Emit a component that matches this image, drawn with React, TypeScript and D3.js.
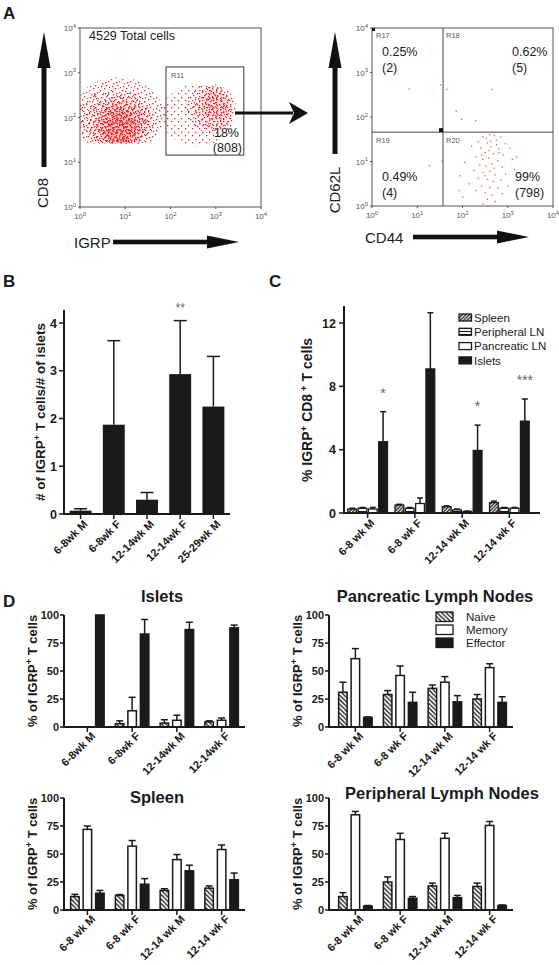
import React from "react";
import * as d3 from "d3";

const FONT = "Arial, 'Liberation Sans', Helvetica, sans-serif";

// ---------------- Panel A data ----------------
const logTicks = [0, 1, 2, 3, 4];
const totalCellsLabel = "4529 Total cells";
const gateR11 = { x0: 1.9, x1: 3.62, y0: 1.16, y1: 3.13 };
const gateR11Stats = ["18%", "(808)"];
const quadDivX = 1.57;
const quadDivY = 1.66;
const quadNames = ["R17", "R18", "R19", "R20"];
const quadPct = ["0.25%", "0.62%", "0.49%", "99%"];
const quadCounts = ["(2)", "(5)", "(4)", "(798)"];

// dot texture tiles used to render the dense cytometry clouds (irregular, different sizes)
const tiles: Record<string, { size: number; dots: number[][] }> = {
  A: { size: 7, dots: [[1, 1], [4, 5]] },
  B: { size: 9, dots: [[0, 3], [3, 7], [6, 1], [8, 5], [4, 4]] },
  C: { size: 11, dots: [[1, 2], [5, 0], [9, 4], [3, 6], [7, 8], [10, 10], [2, 9], [6, 5]] },
  D: { size: 13, dots: [[0, 0], [3, 5], [7, 2], [11, 6], [5, 9], [9, 11], [1, 12], [12, 1], [6, 6], [2, 3]] },
};

// cloud density layers in log10 units (cx, cy, rx, ry)
const mainCloud = [
  { cx: 0.85, cy: 2.05, rx: 1.0, ry: 0.85, tile: "C", sx: 0, sy: 0, base: 0 },
  { cx: 0.8, cy: 1.95, rx: 0.85, ry: 0.7, tile: "D", sx: 3, sy: 4, base: 0 },
  { cx: 0.85, cy: 1.9, rx: 0.7, ry: 0.6, tile: "B", sx: 0, sy: 0, base: 0.05 },
  { cx: 0.9, cy: 1.85, rx: 0.55, ry: 0.5, tile: "C", sx: 4, sy: 3, base: 0.06 },
  { cx: 0.88, cy: 1.8, rx: 0.42, ry: 0.42, tile: "B", sx: 5, sy: 2, base: 0.08 },
  { cx: 0.9, cy: 1.75, rx: 0.3, ry: 0.32, tile: "D", sx: 6, sy: 7, base: 0.1 },
];
const mainCloudFloor = 1.42;
const gateCloud = [
  { cx: 2.6, cy: 2.05, rx: 0.8, ry: 0.7, tile: "A", sx: 2, sy: 1, base: 0 },
  { cx: 2.9, cy: 2.2, rx: 0.55, ry: 0.55, tile: "C", sx: 5, sy: 5, base: 0 },
  { cx: 2.95, cy: 2.2, rx: 0.42, ry: 0.5, tile: "B", sx: 1, sy: 3, base: 0.05 },
  { cx: 3.0, cy: 2.25, rx: 0.28, ry: 0.32, tile: "D", sx: 2, sy: 2, base: 0.08 },
];

// CD44 / CD62L events (log10 units)
const r20Points = [
  [2.45, 1.55], [2.6, 1.6], [2.7, 1.58], [2.85, 1.55], [2.35, 1.45], [2.55, 1.42], [2.75, 1.48], [2.95, 1.4],
  [2.2, 1.35], [2.4, 1.3], [2.62, 1.33], [2.8, 1.28], [3.05, 1.3], [2.5, 1.2], [2.68, 1.18], [2.9, 1.15],
  [2.3, 1.1], [2.45, 1.05], [2.58, 1.08], [2.78, 1.02], [3.1, 1.05], [2.05, 0.98], [2.38, 0.92], [2.52, 0.9],
  [2.65, 0.95], [2.88, 0.88], [3.15, 0.82], [2.25, 0.8], [2.45, 0.75], [2.6, 0.78], [2.72, 0.7], [2.95, 0.72],
  [1.95, 0.68], [2.35, 0.62], [2.55, 0.6], [2.68, 0.55], [2.85, 0.58], [2.15, 0.5], [2.42, 0.45], [2.6, 0.42],
  [2.78, 0.4], [3.0, 0.45], [2.3, 0.35], [2.5, 0.3], [2.65, 0.25], [2.88, 0.28], [2.0, 0.2], [2.55, 0.15],
  [2.72, 0.1], [2.45, 0.05], [1.92, 0.35], [2.62, 1.45], [2.52, 1.52], [2.75, 1.38], [2.58, 1.25], [2.42, 1.15],
  [2.7, 0.85], [2.5, 0.68], [2.8, 1.2], [3.2, 1.1],
];
const otherQuadPoints = [
  [0.82, 2.63], [1.52, 2.72], [1.65, 2.62], [1.86, 2.13], [1.98, 1.95], [2.29, 1.92], [2.65, 2.62], [1.27, 0.91], [1.55, 1.01],
];

// ---------------- Panel B data ----------------
const bCategories = ["6-8wk M", "6-8wk F", "12-14wk M", "12-14wk F", "25-29wk M"];
const bValues = [0.07, 1.87, 0.3, 2.93, 2.25];
const bErrors = [0.11, 3.63, 0.45, 4.05, 3.3];
const bTicks = [0, 1, 2, 3, 4];
const bStars = ["", "", "", "**", ""];

// ---------------- Panel C data ----------------
const cGroups = ["6-8 wk M", "6-8 wk F", "12-14 wk M", "12-14 wk F"];
const cSeries = ["Spleen", "Peripheral LN", "Pancreatic LN", "Islets"];
const cSpleen = [0.25, 0.5, 0.4, 0.65];
const cSpleenErr = [0.3, 0.55, 0.45, 0.75];
const cPeripheral = [0.3, 0.3, 0.2, 0.3];
const cPeripheralErr = [0.35, 0.35, 0.25, 0.35];
const cPancreatic = [0.25, 0.6, 0.1, 0.3];
const cPancreaticErr = [0.35, 0.95, 0.12, 0.35];
const cIslets = [4.5, 9.1, 3.95, 5.8];
const cIsletsErr = [6.4, 12.65, 5.55, 7.2];
const cTicks = [0, 4, 8, 12];
const cStars = ["*", "", "*", "***"];

// ---------------- Panel D data ----------------
const dSeries = ["Naive", "Memory", "Effector"];
const dGroupsIslets = ["6-8wk M", "6-8wk F", "12-14wk M", "12-14wk F"];
const dGroups = ["6-8 wk M", "6-8 wk F", "12-14 wk M", "12-14 wk F"];
const dTicks = [0, 25, 50, 75, 100];

const isletsNaive = [0, 3, 3.5, 4.5];
const isletsNaiveErr = [0, 5.5, 6.5, 5.5];
const isletsMemory = [0, 14.5, 6, 6];
const isletsMemoryErr = [0, 26.5, 10.5, 8];
const isletsEffector = [100, 83, 87, 88.5];
const isletsEffectorErr = [100, 96, 93.5, 91];

const pancNaive = [31, 29, 34.5, 25];
const pancNaiveErr = [40, 32.5, 37.5, 29];
const pancMemory = [61, 46, 40, 53];
const pancMemoryErr = [70, 54.5, 45, 56.5];
const pancEffector = [8.5, 22, 22.5, 22];
const pancEffectorErr = [9, 31, 28, 27];

const spleenNaive = [12, 13, 17.5, 19.5];
const spleenNaiveErr = [14, 13.8, 19, 21.5];
const spleenMemory = [72, 57, 45, 54];
const spleenMemoryErr = [75, 62, 49.5, 58];
const spleenEffector = [15, 23, 35, 27];
const spleenEffectorErr = [17.5, 28, 40, 33];

const periNaive = [12, 25, 21.5, 21];
const periNaiveErr = [15.5, 29.5, 24, 24];
const periMemory = [85, 63, 64, 75.5];
const periMemoryErr = [88, 68.5, 68.5, 79];
const periEffector = [3.5, 10.5, 11, 4];
const periEffectorErr = [4, 12, 13, 4.5];

const INK = "#1a1a1a";
const DOT = "#e8262b";

function Sup({ children }: { children: React.ReactNode }) {
  return (
    <tspan baselineShift="super" fontSize="70%">
      {children}
    </tspan>
  );
}

function Defs() {
  const all = [...mainCloud, ...gateCloud];
  return (
    <defs>
      {all.map((l, i) => {
        const t = tiles[l.tile];
        return (
          <pattern
            key={i}
            id={`dots${i}`}
            width={t.size}
            height={t.size}
            patternUnits="userSpaceOnUse"
            patternTransform={`translate(${l.sx},${l.sy})`}
          >
            {t.dots.map(([a, b], j) => (
              <rect key={j} x={a} y={b} width={1.3} height={1.3} fill={DOT} />
            ))}
          </pattern>
        );
      })}
      <pattern id="hatchBack" width={4.5} height={4.5} patternUnits="userSpaceOnUse">
        <rect width={4.5} height={4.5} fill="#fff" />
        <path d="M-1,-1 L5.5,5.5 M3.5,-1 L5.5,1 M-1,3.5 L1,5.5" stroke={INK} strokeWidth={1.3} />
      </pattern>
      <pattern id="hatchFwd" width={3.5} height={3.5} patternUnits="userSpaceOnUse">
        <rect width={3.5} height={3.5} fill="#fff" />
        <path d="M-1,4.5 L4.5,-1 M-1,1 L1,-1 M2.5,4.5 L4.5,2.5" stroke={INK} strokeWidth={1.3} />
      </pattern>
      <pattern id="hStripes" width={3} height={3} patternUnits="userSpaceOnUse">
        <rect width={3} height={3} fill="#fff" />
        <line x1={0} x2={3} y1={1.5} y2={1.5} stroke={INK} strokeWidth={1.1} />
      </pattern>
      <clipPath id="clipL">
        <rect x={80} y={28} width={181} height={179} />
      </clipPath>
      <clipPath id="clipFloor">
        <rect x={80} y={28} width={181} height={179 - (mainCloudFloor / 4) * 179} />
      </clipPath>
    </defs>
  );
}

function LogLabel({ x, y, p, anchor }: { x: number; y: number; p: number; anchor: string }) {
  return (
    <text x={x} y={y} fontSize={8} fill="#555" textAnchor={anchor}>
      10<tspan dy={-3.5} fontSize={6}>{p}</tspan>
    </text>
  );
}

function FlowFrame({ xs, ys }: { xs: any; ys: any }) {
  const [x0, x1] = xs.range();
  const [y0, y1] = ys.range();
  return (
    <g>
      <rect x={x0} y={y1} width={x1 - x0} height={y0 - y1} fill="none" stroke="#555" strokeWidth={1} />
      {logTicks.map((t) => (
        <g key={t}>
          <line x1={x0 - 2} x2={x0} y1={ys(t)} y2={ys(t)} stroke="#555" />
          <line x1={xs(t)} x2={xs(t)} y1={y0} y2={y0 + 2} stroke="#555" />
          <LogLabel x={x0 - 4} y={ys(t) + 3} p={t} anchor="end" />
          <LogLabel x={xs(t)} y={y0 + 12} p={t} anchor="middle" />
        </g>
      ))}
    </g>
  );
}

function VArrow({ x, top, bottom }: { x: number; top: number; bottom: number }) {
  const headBase = top + 36;
  return (
    <g fill="#111">
      <rect x={x - 2.5} y={headBase - 1} width={5} height={bottom - headBase + 1} />
      <polygon points={`${x},${top} ${x - 6.5},${headBase} ${x + 6.5},${headBase}`} />
    </g>
  );
}

function HArrow({ y, left, right }: { y: number; left: number; right: number }) {
  const headBase = right - 32;
  return (
    <g fill="#111">
      <rect x={left} y={y - 2.3} width={headBase - left + 1} height={4.6} />
      <polygon points={`${right},${y} ${headBase},${y - 6.5} ${headBase},${y + 6.5}`} />
    </g>
  );
}

function CloudLayer({ l, i, xs, ys, kx, ky }: any) {
  return (
    <g>
      {l.base > 0 && (
        <ellipse cx={xs(l.cx)} cy={ys(l.cy)} rx={l.rx * kx} ry={l.ry * ky} fill={DOT} fillOpacity={l.base} />
      )}
      <ellipse cx={xs(l.cx)} cy={ys(l.cy)} rx={l.rx * kx} ry={l.ry * ky} fill={`url(#dots${i})`} />
    </g>
  );
}

function PanelA() {
  const xsL = d3.scaleLinear([0, 4], [80, 261]);
  const ysL = d3.scaleLinear([0, 4], [207, 28]);
  const xsR = d3.scaleLinear([0, 4], [372, 553]);
  const ysR = d3.scaleLinear([0, 4], [206, 28]);
  const kx = 181 / 4;
  const ky = 179 / 4;
  return (
    <g>
      <text x={3} y={19} fontSize={17} fontWeight="bold" fill={INK}>A</text>
      {/* left scatter */}
      <g clipPath="url(#clipL)">
        <g clipPath="url(#clipFloor)">
          {mainCloud.map((l, i) => (
            <CloudLayer key={i} l={l} i={i} xs={xsL} ys={ysL} kx={kx} ky={ky} />
          ))}
        </g>
        {gateCloud.map((l, i) => (
          <CloudLayer key={i} l={l} i={i + mainCloud.length} xs={xsL} ys={ysL} kx={kx} ky={ky} />
        ))}
      </g>
      <FlowFrame xs={xsL} ys={ysL} />
      <text x={89} y={40} fontSize={12.5} fill="#222">{totalCellsLabel}</text>
      <rect
        x={xsL(gateR11.x0)}
        y={ysL(gateR11.y1)}
        width={xsL(gateR11.x1) - xsL(gateR11.x0)}
        height={ysL(gateR11.y0) - ysL(gateR11.y1)}
        fill="none"
        stroke="#333"
        strokeWidth={1}
      />
      <text x={xsL(gateR11.x0) + 5} y={ysL(gateR11.y1) + 11} fontSize={7.5} fill="#556">R11</text>
      <text x={239} y={137} fontSize={12.5} fill="#222" textAnchor="end">{gateR11Stats[0]}</text>
      <text x={242} y={152} fontSize={12.5} fill="#222" textAnchor="end">{gateR11Stats[1]}</text>
      {/* gate arrow */}
      <rect x={235} y={111.5} width={58} height={3} fill="#111" />
      <polygon points="308,113 289,102 294,113 289,124" fill="#111" />
      <VArrow x={44} top={32} bottom={167} />
      <text transform="translate(48,193) rotate(-90)" fontSize={15} textAnchor="middle" fill="#222">CD8</text>
      <text x={74} y={248} fontSize={15} fill="#222">IGRP</text>
      <HArrow y={242} left={113} right={239} />

      {/* right scatter */}
      <g>
        {r20Points.concat(otherQuadPoints).map(([a, b], i) => (
          <rect key={i} x={xsR(a) - 0.6} y={ysR(b) - 0.6} width={1.3} height={1.3} fill="#e8585a" />
        ))}
      </g>
      <FlowFrame xs={xsR} ys={ysR} />
      <line x1={xsR(quadDivX)} x2={xsR(quadDivX)} y1={28} y2={206} stroke="#444" />
      <line x1={372} x2={553} y1={ysR(quadDivY)} y2={ysR(quadDivY)} stroke="#444" />
      <rect x={372} y={28} width={3} height={3} fill="#111" />
      <rect x={xsR(quadDivX) - 4} y={ysR(quadDivY) - 4} width={4} height={4} fill="#111" />
      <text x={376} y={38} fontSize={7.5} fill="#556">{quadNames[0]}</text>
      <text x={446} y={38} fontSize={7.5} fill="#556">{quadNames[1]}</text>
      <text x={376} y={143} fontSize={7.5} fill="#556">{quadNames[2]}</text>
      <text x={446} y={143} fontSize={7.5} fill="#556">{quadNames[3]}</text>
      <text x={382} y={56} fontSize={12.5} fill="#222">{quadPct[0]}</text>
      <text x={382} y={72} fontSize={12.5} fill="#222">{quadCounts[0]}</text>
      <text x={512} y={56} fontSize={12.5} fill="#222">{quadPct[1]}</text>
      <text x={512} y={72} fontSize={12.5} fill="#222">{quadCounts[1]}</text>
      <text x={382} y={181} fontSize={12.5} fill="#222">{quadPct[2]}</text>
      <text x={382} y={197} fontSize={12.5} fill="#222">{quadCounts[2]}</text>
      <text x={515} y={181} fontSize={12.5} fill="#222">{quadPct[3]}</text>
      <text x={515} y={197} fontSize={12.5} fill="#222">{quadCounts[3]}</text>
      <VArrow x={335} top={32} bottom={154} />
      <text transform="translate(340,190) rotate(-90)" fontSize={15} textAnchor="middle" fill="#222">CD62L</text>
      <text x={365} y={243} fontSize={15} fill="#222">CD44</text>
      <HArrow y={237} left={413} right={529} />
    </g>
  );
}

function ErrBar({ x, yv, ye, cap }: { x: number; yv: number; ye: number; cap: number }) {
  return (
    <g stroke={INK} strokeWidth={1.5}>
      <line x1={x} x2={x} y1={yv} y2={ye} />
      <line x1={x - cap / 2} x2={x + cap / 2} y1={ye} y2={ye} />
    </g>
  );
}

function PanelB() {
  const x = d3.scaleBand(bCategories, [64, 230]).paddingInner(0.34).paddingOuter(0.17);
  const y = d3.scaleLinear([0, 4], [514, 323]);
  return (
    <g fontFamily={FONT}>
      <text x={3} y={287} fontSize={17} fontWeight="bold" fill={INK}>B</text>
      {bCategories.map((c, i) => {
        const cx = x(c)! + x.bandwidth() / 2;
        return (
          <g key={c}>
            <ErrBar x={cx} yv={y(bValues[i])} ye={y(bErrors[i])} cap={13} />
            <rect x={x(c)} y={y(bValues[i])} width={x.bandwidth()} height={y(0) - y(bValues[i])} fill={INK} />
            {bStars[i] && (
              <text x={cx} y={312} fontSize={12} textAnchor="middle" fill="#666">{bStars[i]}</text>
            )}
            <line x1={cx} x2={cx} y1={514} y2={519} stroke={INK} strokeWidth={1.5} />
            <text
              transform={`translate(${cx + 5},${522}) rotate(-45)`}
              fontSize={11}
              fontWeight="bold"
              textAnchor="end"
              dy="0.35em"
              fill={INK}
            >
              {c}
            </text>
          </g>
        );
      })}
      <line x1={64} x2={64} y1={310} y2={515} stroke={INK} strokeWidth={2} />
      <line x1={63} x2={230} y1={514} y2={514} stroke={INK} strokeWidth={2} />
      {bTicks.map((t) => (
        <g key={t}>
          <line x1={59} x2={64} y1={y(t)} y2={y(t)} stroke={INK} strokeWidth={1.5} />
          <text x={57} y={y(t)} dy="0.36em" fontSize={12.5} fontWeight="bold" textAnchor="end" fill={INK}>{t}</text>
        </g>
      ))}
      <text transform="translate(45,412) rotate(-90)" fontSize={13.5} fontWeight="bold" textAnchor="middle" fill={INK}>
        # of IGRP<Sup>+</Sup> T cells/# of islets
      </text>
    </g>
  );
}

function PanelC() {
  const x = d3.scaleBand(cGroups, [344, 533]).paddingInner(0.16).paddingOuter(0.08);
  const inner = d3.scaleBand(cSeries, [0, x.bandwidth()]).paddingInner(0.15);
  const y = d3.scaleLinear([0, 12], [513, 323]);
  const series = [
    { key: cSeries[0], vals: cSpleen, errs: cSpleenErr, fill: "url(#hatchFwd)" },
    { key: cSeries[1], vals: cPeripheral, errs: cPeripheralErr, fill: "url(#hStripes)" },
    { key: cSeries[2], vals: cPancreatic, errs: cPancreaticErr, fill: "#fff" },
    { key: cSeries[3], vals: cIslets, errs: cIsletsErr, fill: INK },
  ];
  return (
    <g>
      <text x={269} y={287} fontSize={17} fontWeight="bold" fill={INK}>C</text>
      {cGroups.map((g, gi) => {
        const gx = x(g)!;
        const cx = gx + x.bandwidth() / 2;
        return (
          <g key={g}>
            {series.map((s) => {
              const bx = gx + inner(s.key)!;
              const bc = bx + inner.bandwidth() / 2;
              return (
                <g key={s.key}>
                  <ErrBar x={bc} yv={y(s.vals[gi])} ye={y(s.errs[gi])} cap={6} />
                  <rect
                    x={bx}
                    y={y(s.vals[gi])}
                    width={inner.bandwidth()}
                    height={y(0) - y(s.vals[gi])}
                    fill={s.fill}
                    stroke={INK}
                    strokeWidth={1.3}
                  />
                </g>
              );
            })}
            {cStars[gi] && (
              <text
                x={gx + inner(cSeries[3])! + inner.bandwidth() / 2}
                y={y(cIsletsErr[gi]) - 14}
                fontSize={14}
                textAnchor="middle"
                fill="#666"
              >
                {cStars[gi]}
              </text>
            )}
            <line x1={cx} x2={cx} y1={513} y2={518} stroke={INK} strokeWidth={1.5} />
            <text
              transform={`translate(${cx + 5},${521}) rotate(-45)`}
              fontSize={11}
              fontWeight="bold"
              textAnchor="end"
              dy="0.35em"
              fill={INK}
            >
              {g}
            </text>
          </g>
        );
      })}
      <line x1={344} x2={344} y1={306} y2={514} stroke={INK} strokeWidth={2} />
      <line x1={343} x2={540} y1={513} y2={513} stroke={INK} strokeWidth={2} />
      {cTicks.map((t) => (
        <g key={t}>
          <line x1={339} x2={344} y1={y(t)} y2={y(t)} stroke={INK} strokeWidth={1.5} />
          <text x={336} y={y(t)} dy="0.36em" fontSize={12.5} fontWeight="bold" textAnchor="end" fill={INK}>{t}</text>
        </g>
      ))}
      <text transform="translate(312,410) rotate(-90)" fontSize={14} fontWeight="bold" textAnchor="middle" fill={INK}>
        % IGRP<Sup>+</Sup> CD8<Sup> +</Sup> T cells
      </text>
      {series.map((s, i) => (
        <g key={s.key}>
          <rect x={459} y={314 + i * 14.3} width={12.5} height={7} fill={s.fill} stroke={INK} strokeWidth={1.3} />
          <text x={474} y={317.5 + i * 14.3} dy="0.36em" fontSize={11.5} fill={INK}>{s.key}</text>
        </g>
      ))}
    </g>
  );
}

type DProps = {
  title: string;
  titleX: number;
  titleY: number;
  axisX: number;
  xEnd: number;
  yTop: number;
  yBottom: number;
  band: [number, number];
  groups: string[];
  naive: number[];
  naiveErr: number[];
  memory: number[];
  memoryErr: number[];
  effector: number[];
  effectorErr: number[];
  legend?: boolean;
};

function DPanel(p: DProps) {
  const x = d3.scaleBand(p.groups, p.band).paddingInner(0.16).paddingOuter(0.08);
  const innerW = 33.5;
  const inner = d3.scaleBand(dSeries, [0, innerW]).paddingInner(0.32);
  const y = d3.scaleLinear([0, 100], [p.yBottom, p.yTop]);
  const series = [
    { key: dSeries[0], vals: p.naive, errs: p.naiveErr, fill: "url(#hatchBack)" },
    { key: dSeries[1], vals: p.memory, errs: p.memoryErr, fill: "#fff" },
    { key: dSeries[2], vals: p.effector, errs: p.effectorErr, fill: INK },
  ];
  const midY = (p.yTop + p.yBottom) / 2;
  return (
    <g>
      <text x={p.titleX} y={p.titleY} fontSize={16.5} fontWeight="bold" textAnchor="middle" fill={INK}>
        {p.title}
      </text>
      {p.groups.map((g, gi) => {
        const cx = x(g)! + x.bandwidth() / 2;
        const start = cx - innerW / 2;
        return (
          <g key={g}>
            {series.map((s) => {
              const v = s.vals[gi];
              if (!v) return null;
              const bx = start + inner(s.key)!;
              const bc = bx + inner.bandwidth() / 2;
              return (
                <g key={s.key}>
                  {s.errs[gi] > v && <ErrBar x={bc} yv={y(v)} ye={y(s.errs[gi])} cap={7} />}
                  <rect
                    x={bx}
                    y={y(v)}
                    width={inner.bandwidth()}
                    height={y(0) - y(v)}
                    fill={s.fill}
                    stroke={INK}
                    strokeWidth={1.5}
                  />
                </g>
              );
            })}
            <line x1={cx} x2={cx} y1={p.yBottom} y2={p.yBottom + 5} stroke={INK} strokeWidth={1.5} />
            <text
              transform={`translate(${cx + 6},${p.yBottom + 7}) rotate(-45)`}
              fontSize={11}
              fontWeight="bold"
              textAnchor="end"
              dy="0.35em"
              fill={INK}
            >
              {g}
            </text>
          </g>
        );
      })}
      <line x1={p.axisX} x2={p.axisX} y1={p.yTop} y2={p.yBottom + 1} stroke={INK} strokeWidth={2} />
      <line x1={p.axisX - 1} x2={p.xEnd} y1={p.yBottom} y2={p.yBottom} stroke={INK} strokeWidth={2} />
      {dTicks.map((t) => (
        <g key={t}>
          <line x1={p.axisX - 4} x2={p.axisX} y1={y(t)} y2={y(t)} stroke={INK} strokeWidth={1.5} />
          <text x={p.axisX - 5} y={y(t)} dy="0.36em" fontSize={11} fontWeight="bold" textAnchor="end" fill={INK}>{t}</text>
        </g>
      ))}
      <text
        transform={`translate(${p.axisX - 27},${midY}) rotate(-90)`}
        fontSize={13}
        fontWeight="bold"
        textAnchor="middle"
        fill={INK}
      >
        % of IGRP<Sup>+</Sup> T cells
      </text>
      {p.legend &&
        series.map((s, i) => (
          <g key={s.key}>
            <rect x={436} y={612 + i * 13} width={17} height={9.5} fill={s.fill} stroke={INK} strokeWidth={1.3} />
            <text x={466} y={617 + i * 13} dy="0.36em" fontSize={11.5} fill={INK}>{s.key}</text>
          </g>
        ))}
    </g>
  );
}

export default function App() {
  return (
    <svg
      width={559}
      height={965}
      viewBox="0 0 559 965"
      style={{ position: "absolute", left: 0, top: 0, background: "#fff" }}
      fontFamily={FONT}
    >
      <Defs />
      <rect width={559} height={965} fill="#fff" />
      <PanelA />
      <PanelB />
      <PanelC />
      <text x={3} y={607} fontSize={17} fontWeight="bold" fill={INK}>D</text>
      <DPanel
        title="Islets"
        titleX={162}
        titleY={602}
        axisX={64}
        xEnd={245}
        yTop={615}
        yBottom={727}
        band={[65, 244]}
        groups={dGroupsIslets}
        naive={isletsNaive}
        naiveErr={isletsNaiveErr}
        memory={isletsMemory}
        memoryErr={isletsMemoryErr}
        effector={isletsEffector}
        effectorErr={isletsEffectorErr}
      />
      <DPanel
        title="Pancreatic Lymph Nodes"
        titleX={435}
        titleY={602}
        axisX={329}
        xEnd={513}
        yTop={615}
        yBottom={727}
        band={[333, 512]}
        groups={dGroups}
        naive={pancNaive}
        naiveErr={pancNaiveErr}
        memory={pancMemory}
        memoryErr={pancMemoryErr}
        effector={pancEffector}
        effectorErr={pancEffectorErr}
        legend
      />
      <DPanel
        title="Spleen"
        titleX={157}
        titleY={803}
        axisX={64}
        xEnd={245}
        yTop={798}
        yBottom={910}
        band={[65, 244]}
        groups={dGroups}
        naive={spleenNaive}
        naiveErr={spleenNaiveErr}
        memory={spleenMemory}
        memoryErr={spleenMemoryErr}
        effector={spleenEffector}
        effectorErr={spleenEffectorErr}
      />
      <DPanel
        title="Peripheral Lymph Nodes"
        titleX={442}
        titleY={799}
        axisX={329}
        xEnd={513}
        yTop={798}
        yBottom={910}
        band={[333, 512]}
        groups={dGroups}
        naive={periNaive}
        naiveErr={periNaiveErr}
        memory={periMemory}
        memoryErr={periMemoryErr}
        effector={periEffector}
        effectorErr={periEffectorErr}
      />
    </svg>
  );
}
